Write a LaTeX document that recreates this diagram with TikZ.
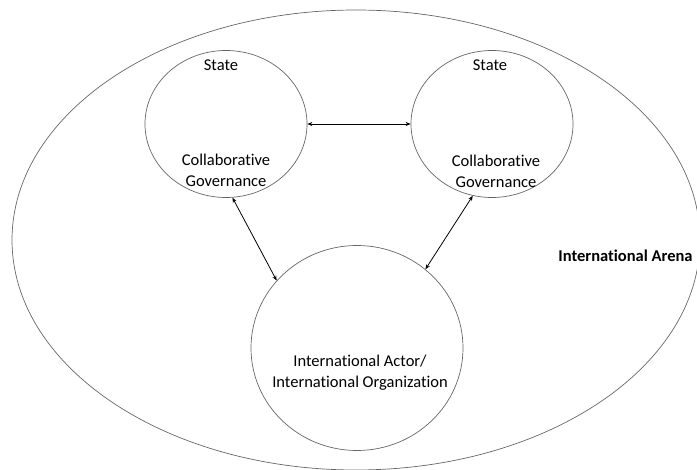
\documentclass[tikz,border=0pt]{standalone}
\usepackage{fontspec}
\setmainfont{Carlito}[Ligatures=NoCommon]
\usetikzlibrary{shapes.geometric,arrows.meta}
\tikzset{
  circ/.style={draw=black!60,line width=0.7pt,ellipse,inner sep=0pt},
  lbl/.style={font=\fontsize{16.5}{21}\selectfont,align=center,inner sep=0pt},
  link/.style={{Stealth[length=5pt,width=4pt]}-{Stealth[length=5pt,width=4pt]},line width=0.8pt}
}
\begin{document}
\begin{tikzpicture}[x=1pt,y=-1pt]
  \useasboundingbox (0,0) rectangle (697,470);
  % arena and actors
  \node[circ,minimum width=688pt,minimum height=460pt] (arena) at (356,240) {};
  \node[circ,minimum width=162pt,minimum height=147pt] (stateL) at (226,124) {};
  \node[circ,minimum width=162pt,minimum height=147pt] (stateR) at (492,124) {};
  \node[circ,minimum width=212pt,minimum height=205pt] (actor) at (357,348) {};
  % texts
  \node[lbl] (stateLtop) at (221,65) {State};
  \node[lbl] (stateRtop) at (490,65) {State};
  \node[lbl] (govL) at (226,170) {Collaborative\\Governance};
  \node[lbl] (govR) at (496,171) {Collaborative\\Governance};
  \node[lbl] (org) at (360,373) {International Actor/\\International Organization};
  \node[lbl,font=\fontsize{16.5}{21}\selectfont\bfseries] (arenaLbl) at (625.5,256) {International Arena};
  % links
  \draw[link] (stateL.east) -- (stateR.west);
  \draw[link] (stateL.-85) -- (actor.140);
  \draw[link] (stateR.-105) -- (actor.49);
\end{tikzpicture}
\end{document}
